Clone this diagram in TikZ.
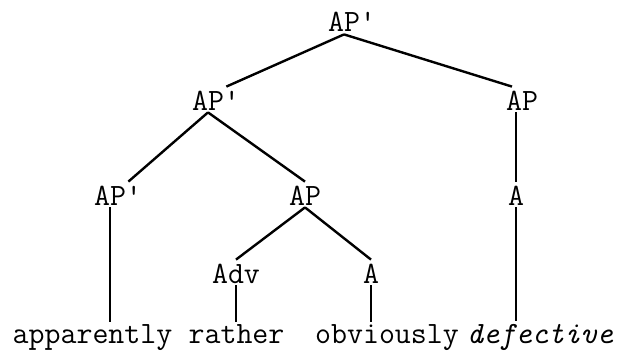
\documentclass[tikz,border=0pt]{standalone}
\begin{document}
\begin{tikzpicture}[x=0.5pt,y=-0.5pt,
  lab/.style={font=\fontsize{15.5}{18}\selectfont\ttfamily, anchor=base, inner sep=1pt, text height=10.5pt, text depth=0pt},
  word/.style={font=\fontsize{15.5}{18}\selectfont\ttfamily, anchor=base, inner sep=1pt},
  edge/.style={line width=1.2pt}]
\useasboundingbox (0,0) rectangle (619,353);
% labels
\node[lab] (root) at (344,32) {AP\rlap{\textquotesingle}};
\node[lab] (apl) at (208,110) {AP\rlap{\textquotesingle}};
\node[lab] (apr) at (522,110) {AP};
\node[lab] (ll) at (110,205) {AP\rlap{\textquotesingle}};
\node[lab] (lm) at (305,205) {AP};
\node[lab] (ra) at (516,205) {A};
\node[lab] (av) at (236,283) {Adv};
\node[lab] (oa) at (371,283) {A};
% words
\node[word] (w1) at (92.5,343) {apparently};
\node[word] (w2) at (236.5,343) {rather};
\node[word] (w3) at (387,343) {obviously};
\node[word] (w4) at (540,343) {\itshape defective};
% edges
\draw[edge] (root.south) -- (apl.north east);
\draw[edge] (root.south) -- ([xshift=-5pt]apr.north);
\draw[edge] (apl.south) -- (ll.north east);
\draw[edge] (apl.south) -- (lm.north);
\draw[edge] (ra.north) -- (ra.north |- apr.south);
\draw[edge] (lm.south) -- (av.north);
\draw[edge] (lm.south) -- (oa.north);
\draw[edge] (ll.south) -- (ll.south |- w1.north);
\draw[edge] (av.south) -- (av.south |- w2.north);
\draw[edge] (oa.south) -- (oa.south |- w3.north);
\draw[edge] (ra.south) -- (ra.south |- w4.north);
\end{tikzpicture}
\end{document}
